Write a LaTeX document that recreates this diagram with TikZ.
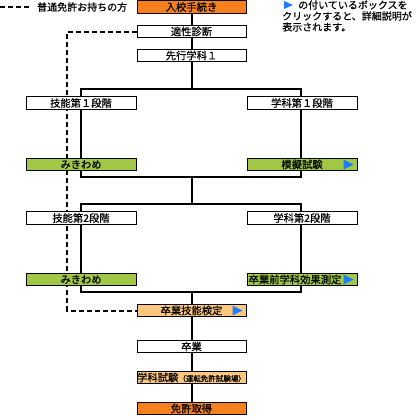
\documentclass[tikz,border=0pt]{standalone}
\usepackage{fontspec}
\setmainfont{Noto Sans CJK JP}[FakeBold=0.6]
\usetikzlibrary{backgrounds}
\definecolor{orangeA}{RGB}{247,128,30}
\definecolor{orangeB}{RGB}{252,200,128}
\definecolor{greenA}{RGB}{160,200,70}
\definecolor{blueA}{RGB}{30,125,250}
\tikzset{
  box/.style={draw=black, line width=1pt, fill=white, minimum width=109pt, minimum height=12.5pt, inner sep=0pt, font=\fontsize{10.3}{12}\selectfont},
  conn/.style={line width=2pt, black},
  dashconn/.style={line width=2pt, black, dash pattern=on 5pt off 3pt},
  tri/.style={fill=blueA, draw=none},
  note/.style={anchor=west, inner sep=0pt, font=\fontsize{10}{12}\selectfont}
}
\newcommand{\bluetri}[1]{\fill[tri] ([xshift=-14pt,yshift=5pt]#1.east) -- ([xshift=-4pt]#1.east) -- ([xshift=-14pt,yshift=-5pt]#1.east) -- cycle;}
\begin{document}
\begin{tikzpicture}[x=1pt,y=-1pt]
\useasboundingbox (0,0) rectangle (417,416);
% nodes
\node[box, fill=orangeA] (nyuko) at (191.5,7) {入校手続き};
\node[box] (tekisei) at (191.5,31.5) {適性診断};
\node[box] (senko) at (191.5,55.5) {先行学科１};
\node[box, minimum width=110pt] (gino1) at (81,103) {技能第１段階};
\node[box, minimum width=110pt] (gaku1) at (302,103) {学科第１段階};
\node[box, minimum width=110pt, fill=greenA] (miki1) at (81,164.5) {みきわめ};
\node[box, minimum width=110pt, fill=greenA] (mogi) at (302,164.5) {模擬試験};
\node[box, minimum width=110pt] (gino2) at (81,218) {技能第2段階};
\node[box, minimum width=110pt] (gaku2) at (302,218) {学科第2段階};
\node[box, minimum width=110pt, fill=greenA] (miki2) at (81,279.5) {みきわめ};
\node[box, minimum width=110pt, fill=greenA] (sokutei) at (302,279.5) {\hspace*{-14pt}卒業前学科効果測定};
\node[box, fill=orangeB] (kentei) at (191.5,310.5) {卒業技能検定};
\node[box] (sotsu) at (191.5,346.5) {卒業};
\node[box, fill=orangeB] (gakka) at (191.5,377.5) {学科試験{\fontsize{7.5}{8}\selectfont （運転免許試験場）}};
\node[box, fill=orangeA] (menkyo) at (191.5,408.5) {免許取得};
\bluetri{mogi}
\bluetri{sokutei}
\bluetri{kentei}
% legend
\coordinate (lg1) at (0,7);
\coordinate (lg2) at (29,7);
\node[note] (lgtext) at (37,7) {普通免許お持ちの方};
\draw[dashconn] (lg1) -- (lg2);
\fill[tri] (284,1) -- (293,5) -- (284,9) -- cycle;
\node[note] (note1) at (298,5) {の付いているボックスを};
\node[note] (note2) at (282,16) {クリックすると、詳細説明が};
\node[note] (note3) at (282,27) {表示されます。};
% coordinates for frames
\coordinate (f1t) at (191.5,89);
\coordinate (f1b) at (191.5,177);
\coordinate (f2t) at (191.5,204);
\coordinate (f2b) at (191.5,292);
\coordinate (d1) at (67,31.5);
\coordinate (d2) at (67,310.5);
\begin{scope}[on background layer]
\draw[conn] (nyuko) -- (tekisei);
\draw[conn] (tekisei) -- (senko);
\draw[conn] (senko) -- (f1t);
\draw[conn] (81,89) rectangle (301,177);
\draw[conn] (f1b) -- (f2t);
\draw[conn] (81,204) rectangle (301,292);
\draw[conn] (f2b) -- (kentei);
\draw[conn] (kentei) -- (sotsu);
\draw[conn] (sotsu) -- (gakka);
\draw[conn] (gakka) -- (menkyo);
\draw[dashconn] (tekisei.west) -- (d1) -- (d2) -- (kentei.west);
\end{scope}
\end{tikzpicture}
\end{document}
